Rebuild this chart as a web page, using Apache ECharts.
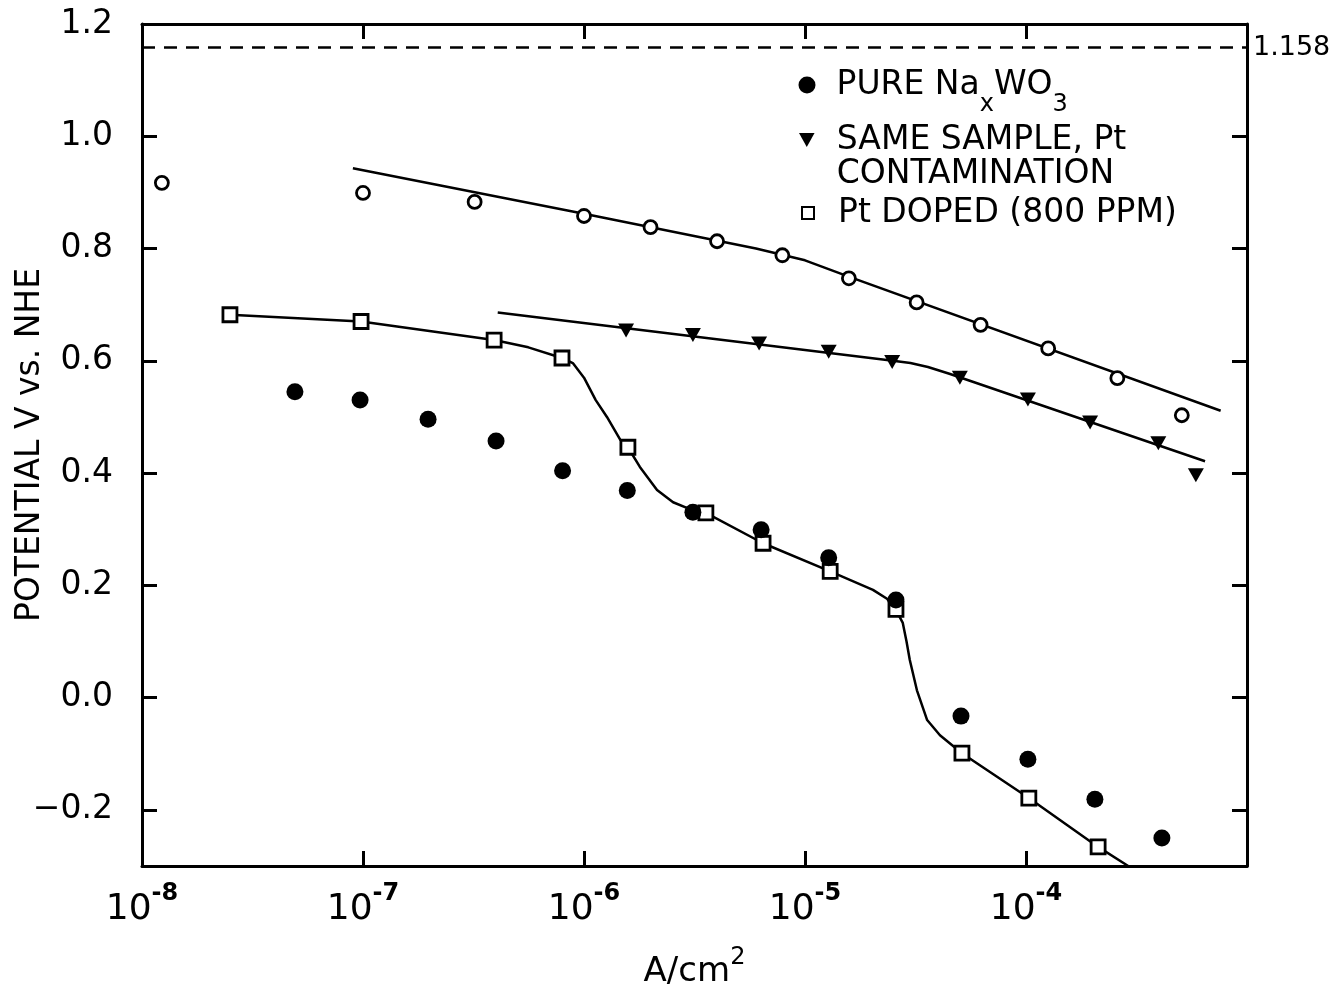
<!DOCTYPE html>
<html>
<head>
<meta charset="utf-8">
<script src="https://cdn.jsdelivr.net/npm/echarts@6/dist/echarts.min.js"></script>
<style>
  html, body { margin: 0; padding: 0; background: #fff; }
  #chart { width: 1337px; height: 989px; }
</style>
</head>
<body>
<div id="chart"></div>
<script>
// Axis ranges and tick labels
const xMin = 1e-8, xMax = 1e-3;
const yMin = -0.3, yMax = 1.2;
const xLabelExponents = [-8, -7, -6, -5, -4];
const yTickValues = [-0.2, 0, 0.2, 0.4, 0.6, 0.8, 1.0, 1.2];
const equilibriumPotential = 1.158;

// Open circles (no legend entry) and their fitted curve
const openCircles = [
  [1.23e-8, 0.917], [1e-7, 0.899], [3.2e-7, 0.883], [1e-6, 0.858], [2e-6, 0.838],
  [4e-6, 0.813], [7.9e-6, 0.788], [1.58e-5, 0.747], [3.2e-5, 0.704], [6.23e-5, 0.664],
  [1.26e-4, 0.622], [2.59e-4, 0.569], [5.07e-4, 0.503]
];
const openCircleFit = [
  [9.0e-8, 0.943], [1e-6, 0.862], [6e-6, 0.800], [1.0e-5, 0.779], [1.6e-5, 0.749],
  [7.6e-4, 0.511]
];

// PURE NaxWO3
const pureNaxWO3 = [
  [4.92e-8, 0.545], [9.7e-8, 0.530], [1.97e-7, 0.496], [4.0e-7, 0.457], [8.0e-7, 0.404],
  [1.57e-6, 0.369], [3.11e-6, 0.330], [6.33e-6, 0.299], [1.28e-5, 0.249], [2.58e-5, 0.174],
  [5.08e-5, -0.033], [1.02e-4, -0.110], [2.05e-4, -0.181], [4.12e-4, -0.250]
];

// Same sample, Pt contamination
const ptContaminated = [
  [1.55e-6, 0.654], [3.11e-6, 0.646], [6.2e-6, 0.631], [1.28e-5, 0.616], [2.48e-5, 0.598],
  [5.02e-5, 0.570], [1.02e-4, 0.531], [1.95e-4, 0.490], [3.97e-4, 0.453], [5.87e-4, 0.396]
];
const ptContaminatedFit = [
  [4.07e-7, 0.686], [2.5e-5, 0.600], [3.0e-5, 0.596], [3.6e-5, 0.589], [4.5e-5, 0.577],
  [6.46e-4, 0.421]
];

// Pt doped (800 ppm)
const ptDoped = [
  [2.5e-8, 0.682], [9.8e-8, 0.670], [3.92e-7, 0.637], [7.95e-7, 0.605], [1.58e-6, 0.446],
  [3.56e-6, 0.329], [6.46e-6, 0.275], [1.30e-5, 0.225], [2.58e-5, 0.157], [5.13e-5, -0.099],
  [1.03e-4, -0.179], [2.12e-4, -0.266]
];
const ptDopedFit = [
  [2.5e-8, 0.682], [9.8e-8, 0.670], [3.92e-7, 0.637], [5.6e-7, 0.624], [7.95e-7, 0.605],
  [8.9e-7, 0.596], [1.0e-6, 0.570], [1.13e-6, 0.530], [1.27e-6, 0.500], [1.46e-6, 0.459],
  [1.58e-6, 0.446], [1.79e-6, 0.411], [2.14e-6, 0.370], [2.53e-6, 0.348], [2.92e-6, 0.338],
  [3.56e-6, 0.329], [6.46e-6, 0.275], [1.30e-5, 0.225], [2.03e-5, 0.192], [2.35e-5, 0.176],
  [2.58e-5, 0.156], [2.77e-5, 0.133], [2.88e-5, 0.100], [2.98e-5, 0.067], [3.21e-5, 0.013],
  [3.57e-5, -0.040], [4.08e-5, -0.067], [5.13e-5, -0.099], [1.03e-4, -0.179], [2.12e-4, -0.266],
  [2.9e-4, -0.300]
];

const FONT = 'DejaVu Sans';
const INK = '#000';
const triangleDown = 'path://M0,0L10,0L5,9Z';

const fitLine = (data) => ({
  type: 'line', data, showSymbol: false, symbol: 'none', silent: true,
  smooth: false, z: 2,
  lineStyle: { color: INK, width: 2.5, join: 'round' }
});

const frameAxisLine = { show: true, onZero: false, lineStyle: { color: INK, width: 3 } };
const frameTick = { show: true, inside: true, length: 15, lineStyle: { color: INK, width: 3 } };

const chart = echarts.init(document.getElementById('chart'), null, { renderer: 'canvas' });

chart.setOption({
  animation: false,
  backgroundColor: '#fff',
  grid: { left: 142, right: 90, top: 24, bottom: 123, containLabel: false, outerBoundsMode: 'none' },
  xAxis: [
    {
      type: 'log', logBase: 10, min: xMin, max: xMax, position: 'bottom',
      axisLine: frameAxisLine, axisTick: frameTick,
      minorTick: { show: false }, splitLine: { show: false },
      axisLabel: {
        margin: 26, color: INK,
        formatter: (v) => {
          const e = Math.round(Math.log10(v));
          return xLabelExponents.includes(e) ? '{b|10}{s|' + e + '}' : '';
        },
        rich: {
          b: { fontFamily: FONT, fontSize: 36, lineHeight: 36, color: INK },
          s: { fontFamily: FONT, fontSize: 24, lineHeight: 24, fontWeight: 'bold', color: INK, padding: [0, 0, 32, 0] }
        }
      },
      name: '{n|A/cm}{s|2}', nameLocation: 'middle', nameGap: 88, nameMoveOverlap: false,
      nameTextStyle: {
        rich: {
          n: { fontFamily: FONT, fontSize: 34, lineHeight: 36, color: INK },
          s: { fontFamily: FONT, fontSize: 24, lineHeight: 24, color: INK, padding: [0, 0, 28, 0] }
        }
      }
    },
    {
      type: 'log', logBase: 10, min: xMin, max: xMax, position: 'top',
      axisLine: frameAxisLine, axisTick: frameTick,
      axisLabel: { show: false }, splitLine: { show: false }, minorTick: { show: false }
    }
  ],
  yAxis: [
    {
      type: 'value', min: yMin, max: yMax, position: 'left',
      axisLine: frameAxisLine,
      axisTick: Object.assign({}, frameTick, { customValues: yTickValues }),
      splitLine: { show: false },
      axisLabel: {
        customValues: yTickValues, margin: 29, color: INK,
        fontFamily: FONT, fontSize: 33,
        formatter: (v) => (v < 0 ? '\u2212' + Math.abs(v).toFixed(1) : v.toFixed(1))
      },
      name: 'POTENTIAL V vs. NHE', nameLocation: 'middle', nameGap: 95, nameRotate: 90,
      nameMoveOverlap: false,
      nameTextStyle: { fontFamily: FONT, fontSize: 33, lineHeight: 34, color: INK }
    },
    {
      type: 'value', min: yMin, max: yMax, position: 'right',
      axisLine: frameAxisLine,
      axisTick: Object.assign({}, frameTick, { customValues: yTickValues }),
      axisLabel: { show: false }, splitLine: { show: false }
    }
  ],
  legend: [
    {
      data: [{ name: 'PURE NaxWO3', icon: 'circle' }],
      left: 798.5, top: 53, padding: 0, itemWidth: 17, itemHeight: 17, selectedMode: false,
      formatter: () => 'PURE Na{sub|x}WO{sub|3}',
      textStyle: {
        fontFamily: FONT, fontSize: 33, lineHeight: 36, color: INK, padding: [0, 0, 0, 16],
        rich: { sub: { fontFamily: FONT, fontSize: 24, lineHeight: 24, color: INK, padding: [40, 0, 0, 0] } }
      }
    },
    {
      data: [{ name: 'SAME SAMPLE, Pt CONTAMINATION', icon: triangleDown }],
      left: 799, top: 89, padding: 0, itemWidth: 16, itemHeight: 14, selectedMode: false,
      formatter: () => '\nSAME SAMPLE, Pt\nCONTAMINATION',
      textStyle: { fontFamily: FONT, fontSize: 33, lineHeight: 34, color: INK, padding: [0, 0, 0, 17] }
    },
    {
      data: [{ name: 'Pt DOPED (800 PPM)', icon: 'rect' }],
      left: 801, top: 195, padding: 0, itemWidth: 12, itemHeight: 12, selectedMode: false,
      textStyle: { fontFamily: FONT, fontSize: 33, lineHeight: 36, color: INK, padding: [0, 0, 0, 19] }
    }
  ],
  series: [
    Object.assign(fitLine(openCircleFit), {
      name: 'open-fit',
      markLine: {
        silent: true, symbol: 'none', animation: false, precision: 3,
        lineStyle: { color: INK, width: 2.5, type: [13, 9] },
        label: {
          show: true, position: 'end', distance: 6, color: INK,
          fontFamily: FONT, fontSize: 27, formatter: '{c}'
        },
        data: [{ yAxis: equilibriumPotential }]
      }
    }),
    Object.assign(fitLine(ptContaminatedFit), { name: 'contaminated-fit' }),
    Object.assign(fitLine(ptDopedFit), { name: 'doped-fit' }),
    {
      name: 'open', type: 'scatter', data: openCircles, symbol: 'circle', symbolSize: 13, z: 3,
      itemStyle: { color: '#fff', borderColor: INK, borderWidth: 2.8, opacity: 1 }
    },
    {
      name: 'SAME SAMPLE, Pt CONTAMINATION', type: 'scatter', data: ptContaminated,
      symbol: triangleDown, symbolSize: [16, 14], z: 3,
      itemStyle: { color: INK, opacity: 1 }
    },
    {
      name: 'Pt DOPED (800 PPM)', type: 'scatter', data: ptDoped,
      symbol: 'rect', symbolSize: 14, z: 3,
      itemStyle: { color: '#fff', borderColor: INK, borderWidth: 2.8, opacity: 1 }
    },
    {
      name: 'PURE NaxWO3', type: 'scatter', data: pureNaxWO3,
      symbol: 'circle', symbolSize: 17, z: 4,
      itemStyle: { color: INK, opacity: 1 }
    }
  ]
});
</script>
</body>
</html>
